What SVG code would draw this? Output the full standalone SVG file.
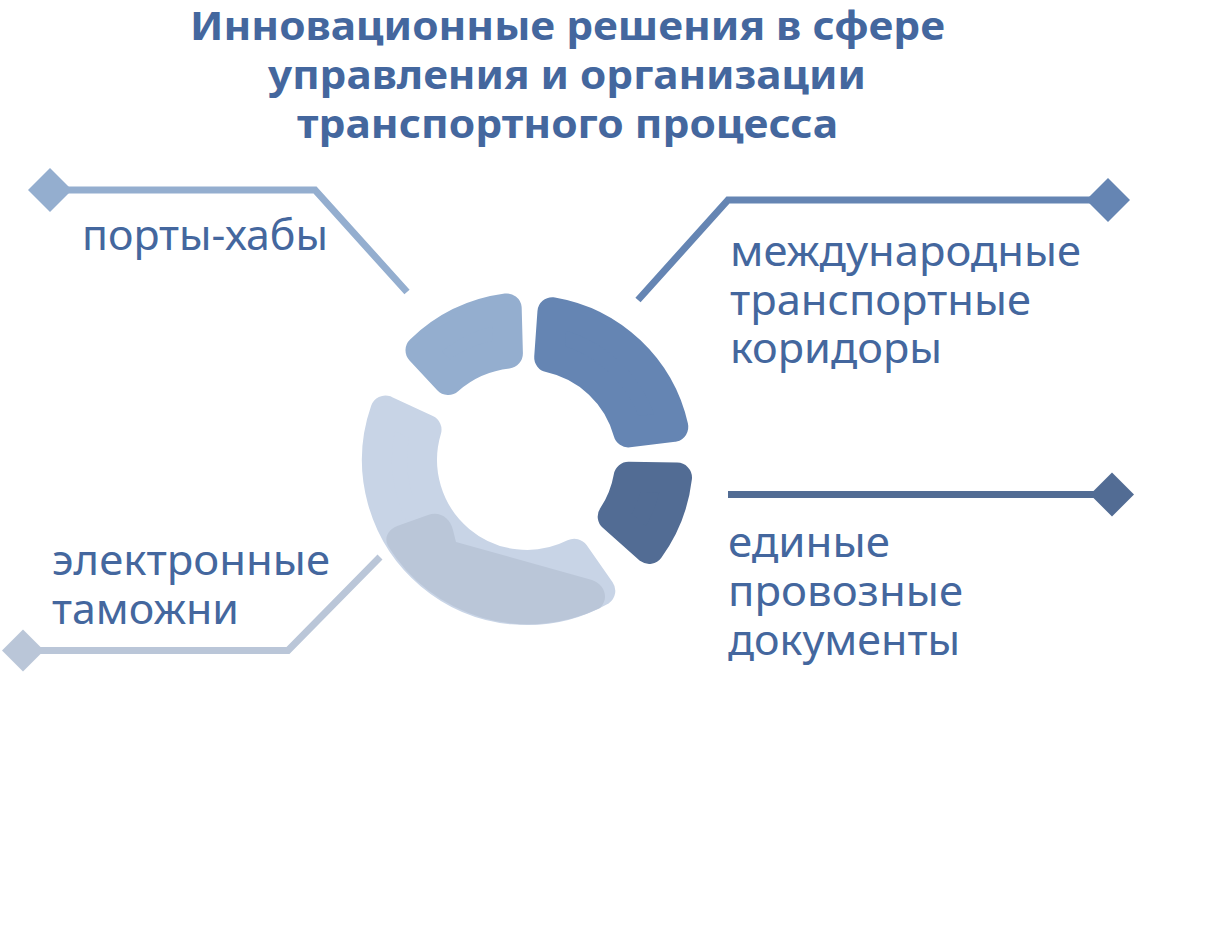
<svg xmlns="http://www.w3.org/2000/svg" width="1215" height="926" viewBox="0 0 1215 926">
  <style>
    .title { font-family: "Noto Sans", "DejaVu Sans", sans-serif; font-weight: 700; font-size: 40px; fill: #44679E; }
    .label { font-family: "Noto Sans", "DejaVu Sans", sans-serif; font-size: 42px; fill: #44679E; }
    .lead { fill: none; stroke-width: 7; stroke-linecap: butt; stroke-linejoin: miter; }
    .seg { stroke-width: 30; stroke-linejoin: round; }
  </style>
  <rect width="1215" height="926" fill="#FFFFFF"/>

  <!-- heading -->
  <g id="title">
    <text class="title" x="567.5" y="40" text-anchor="middle" textLength="755" lengthAdjust="spacingAndGlyphs">Инновационные решения в сфере</text>
    <text class="title" x="567" y="89" text-anchor="middle" textLength="598" lengthAdjust="spacingAndGlyphs">управления и организации</text>
    <text class="title" x="567.5" y="138" text-anchor="middle" textLength="541" lengthAdjust="spacingAndGlyphs">транспортного процесса</text>
  </g>

  <!-- ring segments: inset sector + wide round-joined stroke gives rounded corners -->
  <g id="ring">
    <path id="seg-ports" class="seg" fill="#94AECF" stroke="#94AECF" d="M 420.5,350.2 A 153 153 0 0 1 506.7,308.4 L 507.9,353.5 A 108 108 0 0 0 448.2,379.9 Z"/>
    <path id="seg-corridors" class="seg" fill="#6585B3" stroke="#6585B3" d="M 552.4,312.2 A 150 150 0 0 1 673.3,426.9 L 628.3,432.4 A 105 105 0 0 0 549.2,357.4 Z"/>
    <path id="seg-documents" class="seg" fill="#526C94" stroke="#526C94" d="M 677,477.6 A 151 151 0 0 1 649.2,548.9 L 612.7,516.6 A 103 103 0 0 0 628.6,476.8 Z"/>
    <path id="seg-customs" class="seg" fill="#C8D4E6" stroke="#C8D4E6" d="M 600.3,590.9 A 150 150 0 0 1 385.4,410.5 L 426.5,429.7 A 105 105 0 0 0 574.3,553.7 Z"/>
    <path id="seg-customs-shade" fill="#BAC6D8" d="M 388,546 C 383,536 390,528 400,525 L 428,515 C 440,511 450,518 453,530 L 456,542 L 592,580 C 604,584 610,598 600,608 A 165 165 0 0 1 388,546 Z"/>
  </g>

  <!-- leader lines -->
  <g id="connectors">
    <polyline class="lead" stroke="#94AECF" points="407,292 315,190 60,190"/>
    <polygon fill="#94AECF" points="28,190 50,168 72,190 50,212"/>
    <polyline class="lead" stroke="#6585B3" points="638,300 728,200 1100,200"/>
    <polygon fill="#6585B3" points="1086,200 1108,178 1130,200 1108,222"/>
    <polyline class="lead" stroke="#526C94" points="728,494.5 1100,494.5"/>
    <polygon fill="#526C94" points="1090,494.5 1112,472.5 1134,494.5 1112,516.5"/>
    <polyline class="lead" stroke="#BAC6D8" points="380,557 288,650.5 30,650.5"/>
    <polygon fill="#BAC6D8" points="2,650.5 23,629.5 44,650.5 23,671.5"/>
  </g>

  <g id="node-ports">
    <text class="label" x="82" y="250" textLength="246" lengthAdjust="spacingAndGlyphs">порты-хабы</text>
  </g>
  <g id="node-corridors">
    <text class="label" x="730" y="266" textLength="351" lengthAdjust="spacingAndGlyphs">международные</text>
    <text class="label" x="730" y="315" textLength="301" lengthAdjust="spacingAndGlyphs">транспортные</text>
    <text class="label" x="730" y="363" textLength="212" lengthAdjust="spacingAndGlyphs">коридоры</text>
  </g>
  <g id="node-documents">
    <text class="label" x="728" y="557" textLength="162" lengthAdjust="spacingAndGlyphs">единые</text>
    <text class="label" x="728" y="606" textLength="235" lengthAdjust="spacingAndGlyphs">провозные</text>
    <text class="label" x="728" y="655" textLength="232" lengthAdjust="spacingAndGlyphs">документы</text>
  </g>
  <g id="node-customs">
    <text class="label" x="52" y="575" textLength="278" lengthAdjust="spacingAndGlyphs">электронные</text>
    <text class="label" x="52" y="624" textLength="187" lengthAdjust="spacingAndGlyphs">таможни</text>
  </g>
</svg>
